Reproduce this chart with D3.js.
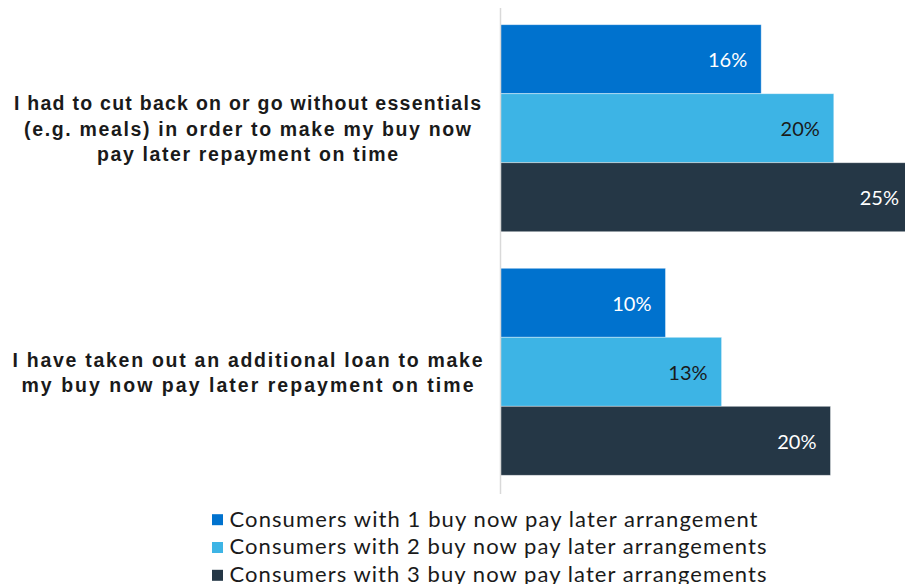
<!DOCTYPE html>
<html><head><meta charset="utf-8">
<script src="https://cdn.jsdelivr.net/npm/d3@7"></script>
<style>body{margin:0;background:#fff}svg{display:block}</style>
</head><body>
<script>
const categories = [
  ["I had to cut back on or go without essentials", "(e.g. meals) in order to make my buy now", "pay later repayment on time"],
  ["I have taken out an additional loan to make", "my buy now pay later repayment on time"]
];
const seriesNames = [
  "Consumers with 1 buy now pay later arrangement",
  "Consumers with 2 buy now pay later arrangements",
  "Consumers with 3 buy now pay later arrangements"
];
const oneArrangement = [15.8, 10.0];
const twoArrangements = [20.2, 13.4];
const threeArrangements = [25.0, 20.0];
const colors = ["#0072CE", "#3DB4E5", "#253746"];
const labelColors = ["#ffffff", "#1a1a1a", "#ffffff"];

const catLineWidths = [[467, 447, 301], [470, 452]];
const legendWidths = [528, 537, 537];

const W = 905, H = 584;
const svg = d3.select("body").append("svg").attr("width", W).attr("height", H);
const series = [oneArrangement, twoArrangements, threeArrangements];

const x = d3.scaleLinear().domain([0, 25]).range([500.5, 913]);
const y0 = d3.scaleBand().domain(d3.range(categories.length)).range([24.7, 475.3]).paddingInner(0.15).paddingOuter(0);
const y1 = d3.scaleBand().domain(d3.range(series.length)).range([0, y0.bandwidth()]);

// bars
const g = svg.append("g");
categories.forEach((c, ci) => {
  series.forEach((s, si) => {
    const yy = y0(ci) + y1(si);
    g.append("rect").attr("x", x(0)).attr("y", yy)
      .attr("width", x(s[ci]) - x(0)).attr("height", y1.bandwidth())
      .attr("fill", colors[si]).attr("stroke", "#ffffff").attr("stroke-opacity", 0.5).attr("stroke-width", 0.8);
    g.append("text").attr("x", Math.min(x(s[ci]), 913) - 14).attr("y", yy + y1.bandwidth() / 2)
      .attr("dy", "0.4em").attr("text-anchor", "end")
      .attr("font-family", "Lato, 'Open Sans', sans-serif").attr("font-size", 20)
      .attr("fill", labelColors[si]).text(d3.format(".0f")(s[ci]) + "%");
  });
});

// axis line
svg.append("line").attr("x1", x(0)).attr("x2", x(0)).attr("y1", 8).attr("y2", 494)
  .attr("stroke", "#d9d9d9").attr("stroke-width", 1.5);

// category labels
categories.forEach((lines, ci) => {
  const cy = y0(ci) + y0.bandwidth() / 2;
  const lh = 25.5;
  lines.forEach((ln, i) => {
    svg.append("text").attr("text-anchor", "middle")
      .attr("font-family", "'Liberation Sans', Arial, sans-serif").attr("font-weight", "bold")
      .attr("font-size", 19.5).attr("fill", "#1a1a1a")
      .attr("x", 247.5)
      .attr("y", cy + (i - (lines.length - 1) / 2) * lh + 7.7)
      .attr("textLength", catLineWidths[ci][i]).attr("lengthAdjust", "spacing")
      .text(ln);
  });
});

// legend
const lg = svg.append("g");
seriesNames.forEach((n, i) => {
  const yy = 519.7 + i * 27.8;
  lg.append("rect").attr("x", 212).attr("y", yy - 5.5).attr("width", 11).attr("height", 11).attr("fill", colors[i]);
  lg.append("text").attr("x", 229.5).attr("y", yy + 6.8)
    .attr("font-family", "Lato, 'Open Sans', sans-serif").attr("font-size", 22)
    .attr("textLength", legendWidths[i]).attr("lengthAdjust", "spacing")
    .attr("fill", "#1a1a1a").text(n);
});
</script>
</body></html>
